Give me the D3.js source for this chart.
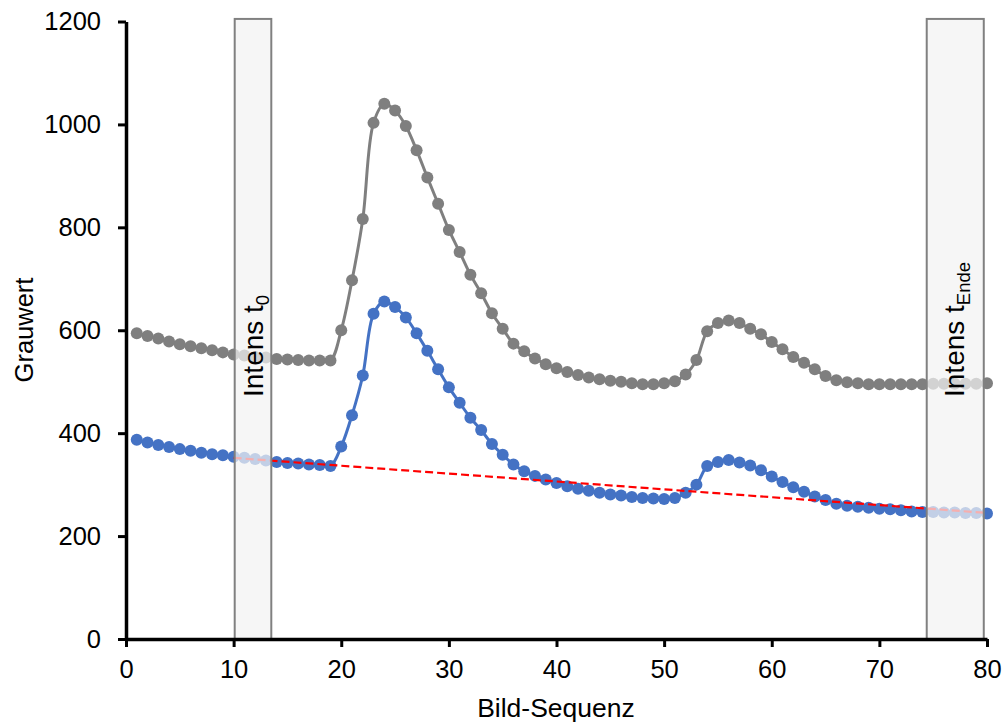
<!DOCTYPE html>
<html>
<head>
<meta charset="utf-8">
<script src="https://cdn.jsdelivr.net/npm/d3@7"></script>
<style>
  body { margin: 0; background: #fff; }
  svg text { font-family: "Liberation Sans", Arial, Helvetica, sans-serif; fill: #000; }
</style>
</head>
<body>
<svg width="1005" height="725"></svg>
<script>
// Bild-Sequenz 1..80
var frames = d3.range(1, 81);

var grayValues = [594, 589, 584, 578, 573, 569, 565, 561, 557, 553,
                  551, 548, 547, 544, 543, 542, 541, 541, 541, 600,
                  697, 816, 1003, 1040, 1027, 997, 950, 897, 846, 795,
                  752, 708, 672, 633, 603, 574, 559, 545, 534, 526,
                  519, 513, 508, 505, 502, 500, 497, 495, 495, 497,
                  501, 514, 542, 598, 614, 619, 614, 603, 592, 577,
                  563, 548, 537, 524, 511, 503, 499, 497, 495, 495,
                  495, 495, 495, 495, 496, 496, 496, 496, 496, 497];

var blueValues = [387, 382, 377, 373, 369, 366, 362, 359, 357, 354,
                  352, 350, 347, 344, 342, 341, 339, 338, 336, 374,
                  435, 512, 632, 656, 645, 625, 594, 560, 524, 489,
                  459, 430, 406, 379, 358, 339, 326, 317, 310, 303,
                  297, 292, 288, 284, 281, 279, 276, 274, 273, 272,
                  274, 284, 300, 336, 344, 348, 343, 337, 328, 316,
                  305, 295, 286, 277, 270, 263, 259, 257, 255, 253,
                  252, 250, 248, 247, 247, 246, 246, 245, 245, 244];

// red dashed baseline between the two intensity windows
var baselineX = [10, 80];
var baselineY = [352, 245];

// shaded windows
var windowStart = [10.1, 74.4];
var windowEnd = [13.5, 79.7];
var windowTop = 1205;
var windowLabel = ["0", "Ende"];

var xTicks = [0, 10, 20, 30, 40, 50, 60, 70, 80];
var yTicks = [0, 200, 400, 600, 800, 1000, 1200];

var svg = d3.select("svg");

var x = d3.scaleLinear().domain([0, 80]).range([126, 987]);
var y = d3.scaleLinear().domain([0, 1200]).range([639, 21.5]);

function series(values, color) {
    var pts = frames.map(function(f, i) { return [f, values[i]]; });
    var line = d3.line()
        .x(function(d) { return x(d[0]); })
        .y(function(d) { return y(d[1]); })
        .curve(d3.curveCatmullRom.alpha(0.5));
    svg.append("path")
        .datum(pts)
        .attr("d", line)
        .attr("fill", "none")
        .attr("stroke", color)
        .attr("stroke-width", 3);
    svg.append("g")
        .selectAll("circle")
        .data(pts)
        .enter().append("circle")
        .attr("cx", function(d) { return x(d[0]); })
        .attr("cy", function(d) { return y(d[1]); })
        .attr("r", 6)
        .attr("fill", color);
}

series(grayValues, "#7f7f7f");
series(blueValues, "#4472c4");

svg.append("line")
    .attr("x1", x(baselineX[0]))
    .attr("y1", y(baselineY[0]))
    .attr("x2", x(baselineX[1]))
    .attr("y2", y(baselineY[1]))
    .attr("stroke", "#ff0000")
    .attr("stroke-width", 2.2)
    .attr("stroke-dasharray", "8,4");

// windows with labels
var win = svg.append("g")
    .selectAll("g")
    .data(d3.range(windowStart.length))
    .enter().append("g");

win.append("rect")
    .attr("x", function(i) { return x(windowStart[i]); })
    .attr("y", y(windowTop))
    .attr("width", function(i) { return x(windowEnd[i]) - x(windowStart[i]); })
    .attr("height", y(0) - y(windowTop))
    .attr("fill", "#f2f2f2")
    .attr("fill-opacity", 0.72)
    .attr("stroke", "#808080")
    .attr("stroke-width", 2);

var lbl = win.append("text")
    .attr("transform", function(i) {
        var cx = (x(windowStart[i]) + x(windowEnd[i])) / 2 + (i == 0 ? 10 : 9);
        return "translate(" + cx + "," + 397 + ") rotate(-90)";
    })
    .style("font-size", "28px");
lbl.append("tspan").text("Intens t");
lbl.append("tspan")
    .attr("dy", 6)
    .style("font-size", "18.5px")
    .text(function(i) { return windowLabel[i]; });

// axes
var xAxis = svg.append("g")
    .attr("transform", "translate(0," + y(0) + ")")
    .call(d3.axisBottom(x).tickValues(xTicks).tickFormat(d3.format("d"))
        .tickSize(8).tickSizeOuter(0).tickPadding(13));
var yAxis = svg.append("g")
    .attr("transform", "translate(" + x(0) + ",0)")
    .call(d3.axisLeft(y).tickValues(yTicks).tickFormat(d3.format("d"))
        .tickSize(8).tickSizeOuter(0).tickPadding(17));

[xAxis, yAxis].forEach(function(a) {
    a.select(".domain").attr("stroke", "#000").attr("stroke-width", 3.5);
    a.selectAll(".tick line").attr("stroke", "#000").attr("stroke-width", 3);
    a.selectAll(".tick text")
        .style("font-size", "25.5px")
        .style("font-family", "'Liberation Sans', Arial, sans-serif")
        .attr("fill", "#000");
});

svg.append("text")
    .attr("x", 556)
    .attr("y", 717)
    .attr("text-anchor", "middle")
    .style("font-size", "26.5px")
    .text("Bild-Sequenz");

svg.append("text")
    .attr("transform", "translate(33,330) rotate(-90)")
    .attr("text-anchor", "middle")
    .style("font-size", "25.5px")
    .text("Grauwert");
</script>
</body>
</html>
